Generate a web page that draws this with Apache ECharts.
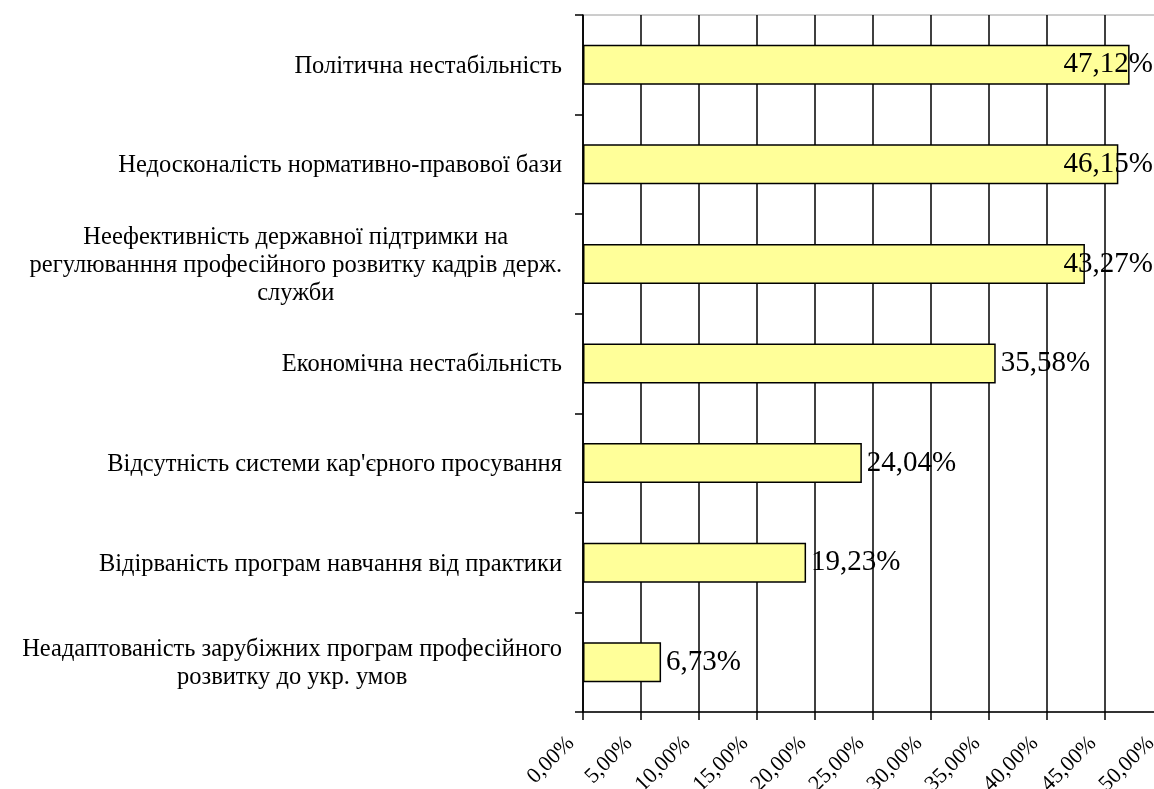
<!DOCTYPE html>
<html>
<head>
<meta charset="utf-8">
<script src="https://cdn.jsdelivr.net/npm/echarts@6/dist/echarts.min.js"></script>
<style>
  html, body { margin: 0; padding: 0; background: #fff; }
  #chart { width: 1154px; height: 789px; }
</style>
</head>
<body>
<div id="chart"></div>
<script>
// Categories listed top to bottom (the y axis is inverted)
const categories = [
  'Політична нестабільність',
  'Недосконалість нормативно-правової бази',
  'Неефективність державної підтримки на\nрегулюванння професійного розвитку кадрів держ.\nслужби',
  'Економічна нестабільність',
  'Відсутність системи кар\'єрного просування',
  'Відірваність програм навчання від практики',
  'Неадаптованість зарубіжних програм професійного\nрозвитку до укр. умов'
];
// Share of respondents, %
const values = [47.12, 46.15, 43.27, 35.58, 24.04, 19.23, 6.73];

const serif = '"Liberation Serif", "DejaVu Serif", serif';
const pct = v => v.toFixed(2).replace('.', ',') + '%';

const chart = echarts.init(document.getElementById('chart'), null, { renderer: 'canvas' });
chart.setOption({
  backgroundColor: '#ffffff',
  animation: false,
  grid: {
    left: 583, width: 580, top: 15, bottom: 77,
    containLabel: false, outerBoundsMode: 'none',
    show: true, borderColor: '#9a9a9a', borderWidth: 1
  },
  xAxis: {
    type: 'value',
    min: 0, max: 50, interval: 5,
    axisLine: { show: true, lineStyle: { color: '#000', width: 1.5 } },
    axisTick: { show: true, length: 8, lineStyle: { color: '#000', width: 1.5 } },
    splitLine: { show: true, lineStyle: { color: '#000', width: 1.5 } },
    axisLabel: {
      rotate: 45, margin: 16, padding: [0, 17, 0, 0],
      fontFamily: serif, fontSize: 22, color: '#000',
      hideOverlap: false, showMinLabel: true, showMaxLabel: true,
      formatter: v => pct(v)
    }
  },
  yAxis: {
    type: 'category',
    inverse: true,
    data: categories,
    axisLine: { show: true, lineStyle: { color: '#000', width: 1.5 } },
    axisTick: { show: true, length: 8, inside: false, lineStyle: { color: '#000', width: 1.5 } },
    axisLabel: {
      margin: 21,
      align: 'right',
      formatter: v => v.split('\n').map(s => '{c|' + s + '}').join('\n'),
      rich: {
        c: { align: 'center', fontFamily: serif, fontSize: 24.5, lineHeight: 28, color: '#000', padding: [3, 0, 0, 0] }
      }
    }
  },
  series: [{
    type: 'bar',
    data: values,
    barWidth: 40,
    itemStyle: { color: '#ffff99', borderColor: '#000', borderWidth: 1.5 },
    label: {
      show: true, position: 'right', distance: 5, offset: [0, 2],
      fontFamily: serif, fontSize: 29, color: '#000',
      formatter: p => pct(p.value)
    },
    labelLayout: function (params) {
      // keep value labels inside the chart's right edge
      const r = params.labelRect;
      const limit = chart.getWidth() - 1;
      const over = r.x + r.width - limit;
      return over > 0 ? { dx: -over } : {};
    }
  }]
});
</script>
</body>
</html>
